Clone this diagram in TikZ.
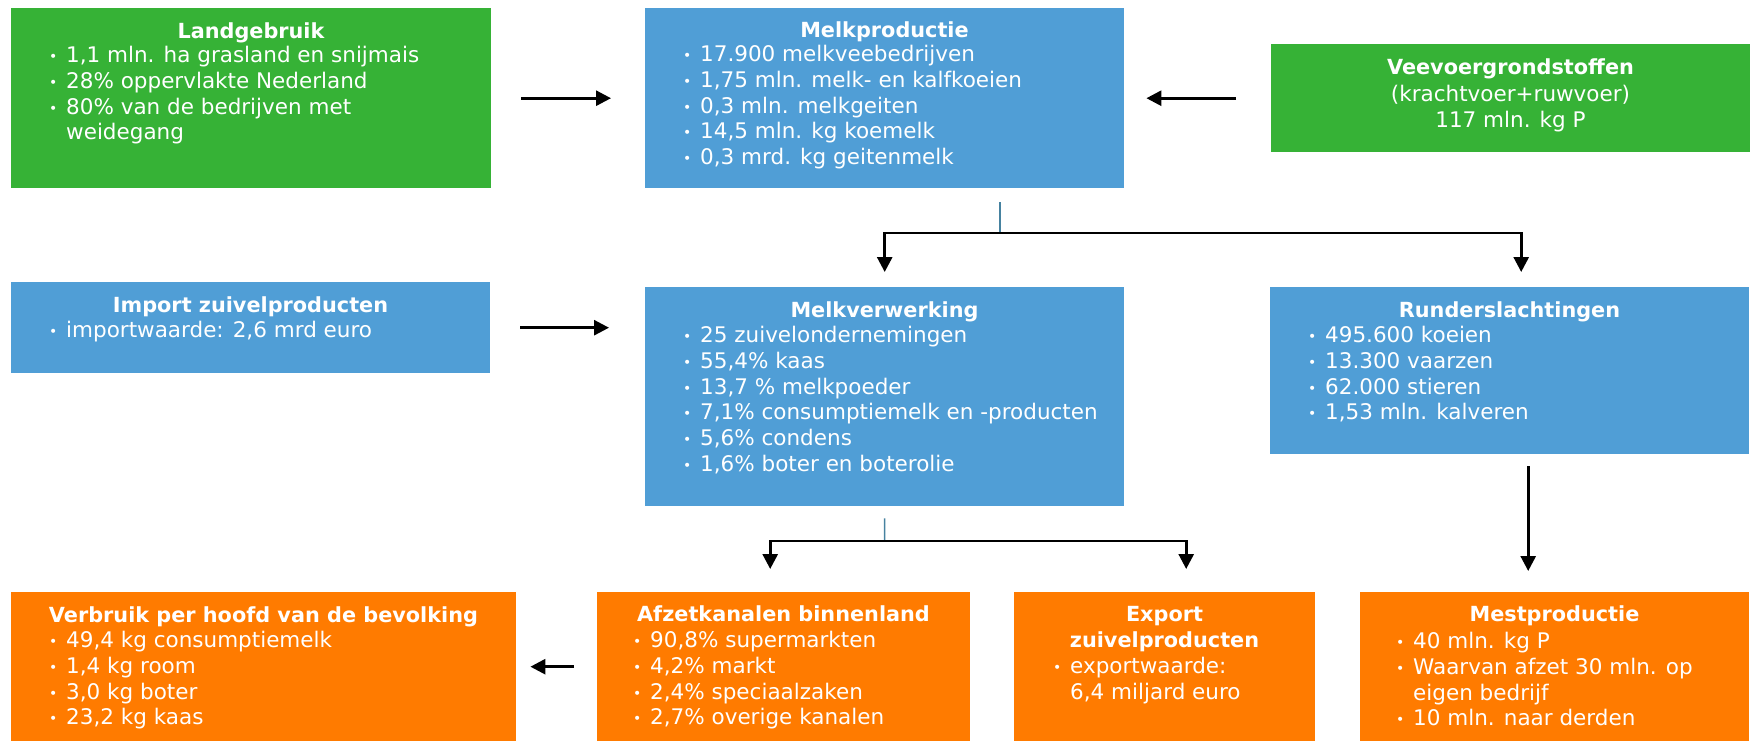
\documentclass[tikz,border=0pt]{standalone}
\usepackage{fontspec}
\setmainfont{DejaVu Sans}
\usetikzlibrary{arrows.meta}

\definecolor{kgreen}{RGB}{54,178,54}
\definecolor{kblue}{RGB}{80,158,214}
\definecolor{korange}{RGB}{255,123,0}
\definecolor{kstem}{RGB}{70,130,160}

\newcommand{\ttlfont}{\fontsize{20.8pt}{25.7pt}\selectfont\bfseries}
\newcommand{\lstfont}{\fontsize{21.5pt}{25.7pt}\selectfont}
\newcommand{\itm}{\strut\makebox[17pt][l]{\fontsize{14pt}{14pt}\selectfont\raisebox{1pt}{•}}}
\newcommand{\cnt}{\strut\hspace*{17pt}}

\tikzset{
  kbox/.style={rectangle, inner sep=0pt, anchor=north west},
  grnbox/.style={kbox, fill=kgreen},
  blubox/.style={kbox, fill=kblue},
  orgbox/.style={kbox, fill=korange},
  ttl/.style={text=white, font=\ttlfont, anchor=north, inner sep=0pt, align=center},
  lst/.style={text=white, font=\lstfont, anchor=north west, inner sep=0pt, align=left},
  arr/.style={line width=2.8pt, -{Triangle[width=15pt,length=15pt]}},
  stem/.style={line width=1.5pt, draw=kstem}
}

\begin{document}
\begin{tikzpicture}[x=1pt,y=-1pt]
    \useasboundingbox (0,0) rectangle (1754,741);

    \node[grnbox, minimum width=480pt, minimum height=180pt] (land) at (11,8) {};
    \node[blubox, minimum width=479pt, minimum height=180pt] (mprod) at (645,8) {};
    \node[grnbox, minimum width=479pt, minimum height=108pt] (veevoer) at (1271,44) {};
    \node[blubox, minimum width=479pt, minimum height=91pt] (import) at (11,282) {};
    \node[blubox, minimum width=479pt, minimum height=219pt] (mverw) at (645,287) {};
    \node[blubox, minimum width=479pt, minimum height=167pt] (rund) at (1270,287) {};
    \node[orgbox, minimum width=505pt, minimum height=149pt] (verbruik) at (11,592) {};
    \node[orgbox, minimum width=373pt, minimum height=149pt] (afzet) at (597,592) {};
    \node[orgbox, minimum width=301pt, minimum height=149pt] (export) at (1014,592) {};
    \node[orgbox, minimum width=389pt, minimum height=149pt] (mest) at (1360,592) {};

    \node[ttl] (landT) at (251,20.5) {\strut Landgebruik};
    \node[lst] (landL) at (49,44.5) {\itm 1,1 mln. ha grasland en snijmais\\
        \itm 28\% oppervlakte Nederland\\
        \itm 80\% van de bedrijven met\\
        \cnt weidegang};

    \node[ttl] (mprodT) at (884.5,19.5) {\strut Melkproductie};
    \node[lst] (mprodL) at (683,43.5) {\itm 17.900 melkveebedrijven\\
        \itm 1,75 mln. melk- en kalfkoeien\\
        \itm 0,3 mln. melkgeiten\\
        \itm 14,5 mln. kg koemelk\\
        \itm 0,3 mrd. kg geitenmelk};

    \node[ttl] (veevoerT) at (1510.5,56.5) {\strut Veevoergrondstoffen};
    \node[ttl, font=\lstfont] (veevoerL) at (1510.5,83.5) {\strut(krachtvoer+ruwvoer)\\
        \strut 117 mln. kg P};

    \node[ttl] (importT) at (250.5,294.5) {\strut Import zuivelproducten};
    \node[lst] (importL) at (49,319.5) {\itm importwaarde: 2,6 mrd euro};

    \node[ttl] (mverwT) at (884.5,299.5) {\strut Melkverwerking};
    \node[lst] (mverwL) at (683,324.5) {\itm 25 zuivelondernemingen\\
        \itm 55,4\% kaas\\
        \itm 13,7 \% melkpoeder\\
        \itm 7,1\% consumptiemelk en -producten\\
        \itm 5,6\% condens\\
        \itm 1,6\% boter en boterolie};

    \node[ttl] (rundT) at (1509.5,299.5) {\strut Runderslachtingen};
    \node[lst] (rundL) at (1308,324.5) {\itm 495.600 koeien\\
        \itm 13.300 vaarzen\\
        \itm 62.000 stieren\\
        \itm 1,53 mln. kalveren};

    \node[ttl] (verbruikT) at (263.5,604.5) {\strut Verbruik per hoofd van de bevolking};
    \node[lst] (verbruikL) at (49,629.5) {\itm 49,4 kg consumptiemelk\\
        \itm 1,4 kg room\\
        \itm 3,0 kg boter\\
        \itm 23,2 kg kaas};

    \node[ttl] (afzetT) at (783.5,603.5) {\strut Afzetkanalen binnenland};
    \node[lst] (afzetL) at (633,629.5) {\itm 90,8\% supermarkten\\
        \itm 4,2\% markt\\
        \itm 2,4\% speciaalzaken\\
        \itm 2,7\% overige kanalen};

    \node[ttl] (exportT) at (1164.5,603.5) {\strut Export\\\strut zuivelproducten};
    \node[lst] (exportL) at (1053,655.5) {\itm exportwaarde:\\
        \cnt 6,4 miljard euro};

    \node[ttl] (mestT) at (1554.5,603.5) {\strut Mestproductie};
    \node[lst] (mestL) at (1396,630.5) {\itm 40 mln. kg P\\
        \itm Waarvan afzet 30 mln. op\\
        \cnt eigen bedrijf\\
        \itm 10 mln. naar derden};

    \coordinate (s1) at (1000,202);
    \coordinate (j1) at (1000,233);
    \coordinate (j2) at (884.5,541);

    \draw[arr] ([xshift=30pt]land.east) -- ([xshift=-34pt]mprod.west);
    \draw[arr] ([xshift=-35pt]veevoer.west) -- ([xshift=22pt]mprod.east |- veevoer.west);
    \draw[stem] (s1) -- (j1);
    \draw[arr] (j1) -| ([yshift=15pt]mverw.north);
    \draw[arr] (j1) -| ([xshift=11.5pt,yshift=15pt]rund.north);
    \draw[arr] ([xshift=30pt]import.east) -- ([xshift=-36pt]mverw.west |- import.east);
    \draw[stem] ([yshift=-12pt]mverw.south) -- (j2);
    \draw[arr] (j2) -| ([xshift=-13.5pt,yshift=23pt]afzet.north);
    \draw[arr] (j2) -| ([xshift=21.5pt,yshift=23pt]export.north);
    \draw[arr] ([xshift=18.5pt,yshift=-12pt]rund.south) -- ([xshift=-26.5pt,yshift=21pt]mest.north);
    \draw[arr] ([xshift=-23pt]afzet.west) -- ([xshift=14pt]verbruik.east);
\end{tikzpicture}
\end{document}
